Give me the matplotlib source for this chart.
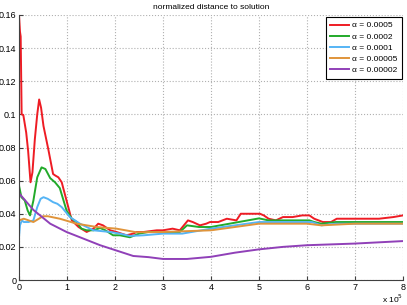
import matplotlib
matplotlib.use('Agg')
import matplotlib.pyplot as plt

# x in units of 1e5 iterations
red_x = [0, 0.02, 0.035, 0.055, 0.09, 0.15, 0.19, 0.24, 0.28, 0.33, 0.38, 0.42, 0.46, 0.51, 0.61,
         0.71, 0.76, 0.82, 0.89, 0.99, 1.1, 1.24, 1.41, 1.55, 1.65, 1.75, 1.9, 2.03, 2.24, 2.38,
         2.45, 2.6, 2.87, 3.0, 3.2, 3.35, 3.52, 3.62, 3.77, 3.9, 3.98, 4.15, 4.33, 4.53, 4.62,
         4.8, 5.02, 5.1, 5.2, 5.35, 5.5, 5.7, 5.9, 6.05, 6.15, 6.33, 6.5, 6.62, 6.9, 7.2, 7.5,
         7.8, 8.0]
red_y = [0.160, 0.150, 0.147, 0.100, 0.0996, 0.089, 0.078, 0.059, 0.065, 0.085, 0.100, 0.109, 0.104, 0.093, 0.079,
         0.064, 0.063, 0.062, 0.059, 0.048, 0.036, 0.032, 0.029, 0.031, 0.034, 0.033, 0.030, 0.029, 0.027, 0.028,
         0.029, 0.029, 0.030, 0.030, 0.031, 0.030, 0.036, 0.035, 0.033, 0.034, 0.035, 0.035, 0.037, 0.036, 0.040,
         0.040, 0.040, 0.039, 0.037, 0.036, 0.038, 0.038, 0.039, 0.039, 0.037, 0.035, 0.035, 0.037, 0.037, 0.037, 0.037,
         0.038, 0.039]

green_x = [0, 0.05, 0.12, 0.18, 0.23, 0.3, 0.38, 0.47, 0.55, 0.65, 0.75, 0.85, 0.99, 1.1, 1.2, 1.3,
           1.41, 1.55, 1.69, 1.8, 1.96, 2.1, 2.31, 2.5, 2.7, 3.0, 3.35, 3.5, 3.75, 4.0, 4.5, 5.0,
           5.2, 5.5, 6.05, 6.15, 6.3, 6.6, 7.0, 8.0]
green_y = [0.057, 0.050, 0.048, 0.042, 0.039, 0.048, 0.062, 0.068, 0.067, 0.0615, 0.059, 0.0555, 0.042, 0.037, 0.035, 0.031,
           0.030, 0.030, 0.0314, 0.030, 0.027, 0.027, 0.0258, 0.028, 0.029, 0.029, 0.029, 0.033, 0.032, 0.032, 0.0346, 0.0372,
           0.036, 0.036, 0.036, 0.035, 0.034, 0.035, 0.035, 0.035]

blue_x = [0, 0.02, 0.06, 0.1, 0.2, 0.3, 0.38, 0.45, 0.51, 0.6, 0.71, 0.8, 0.89, 1.06, 1.27,
          1.55, 1.9, 2.1, 2.31, 2.6, 3.0, 3.4, 4.0, 4.5, 5.0, 5.5, 6.1, 6.3, 6.6, 8.0]
blue_y = [0.026, 0.033, 0.036, 0.035, 0.035, 0.036, 0.044, 0.049, 0.050, 0.049, 0.047, 0.046, 0.044, 0.038, 0.034,
          0.030, 0.029, 0.028, 0.0266, 0.027, 0.028, 0.028, 0.031, 0.033, 0.035, 0.035, 0.035, 0.033, 0.034, 0.034]

orange_x = [0, 0.1, 0.3, 0.5, 0.6, 0.85, 1.2, 1.62, 2.03, 2.45, 3.0, 4.0, 5.0, 6.0, 6.3, 7.0, 8.0]
orange_y = [0.036, 0.037, 0.035, 0.0385, 0.0385, 0.037, 0.034, 0.032, 0.031, 0.0288, 0.029, 0.030, 0.034, 0.034,
            0.033, 0.034, 0.034]

purple_x = [0, 0.3, 0.65, 0.99, 1.69, 2.38, 2.7, 3.0, 3.5, 4.0, 4.5, 5.0, 5.5, 6.0, 7.0, 8.0]
purple_y = [0.0524, 0.0423, 0.034, 0.029, 0.021, 0.0145, 0.0138, 0.0127, 0.0127, 0.014, 0.0165, 0.0185, 0.020,
            0.021, 0.022, 0.0235]

labels = ['α = 0.0005', 'α = 0.0002', 'α = 0.0001', 'α = 0.00005', 'α = 0.00002']
colors = ['#ee1c24', '#22aa2a', '#55b4f5', '#e0943a', '#9040b8']

xticks = [0, 1, 2, 3, 4, 5, 6, 7, 8]
yticks = [0, 0.02, 0.04, 0.06, 0.08, 0.1, 0.12, 0.14, 0.16]
ytick_labels = ['0', '0.02', '0.04', '0.06', '0.08', '0.1', '0.12', '0.14', '0.16']

plt.rcParams['font.family'] = ['Liberation Sans', 'DejaVu Sans']
plt.rcParams['font.size'] = 6

fig = plt.figure(figsize=(4.07, 3.05), dpi=100)
ax = fig.add_axes([19 / 407, 25 / 305, 384 / 407, 265 / 305])

series = [(red_x, red_y), (green_x, green_y), (blue_x, blue_y), (orange_x, orange_y), (purple_x, purple_y)]
for (xs, ys), c, lab in zip(series, colors, labels):
    ax.plot(xs, ys, color=c, lw=1.4, label=lab)

ax.set_xlim(0, 8)
ax.set_ylim(0, 0.16)
ax.set_xticks(xticks)
ax.set_yticks(yticks)
ax.set_yticklabels(ytick_labels)
ax.grid(True, linestyle=':', color='#b0b0b0', lw=0.8)
ax.tick_params(direction='in', length=3, color='#404040', labelsize=6.5, pad=2)
for s in ['top', 'right']:
    ax.spines[s].set_visible(False)
for s in ['left', 'bottom']:
    ax.spines[s].set_color('#404040')
    ax.spines[s].set_linewidth(0.8)

ax.set_title('normalized distance to solution', fontsize=6, pad=4)
ax.text(1.0, -0.087, r'x 10$^5$', transform=ax.transAxes, ha='right', va='baseline', fontsize=6)

leg = ax.legend(loc='upper right', bbox_to_anchor=(402 / 407, 1 - 17 / 305),
                bbox_transform=fig.transFigure, fontsize=6, fancybox=False, framealpha=1,
                edgecolor='black', handlelength=2.25, borderpad=0.55, labelspacing=0.4,
                handletextpad=0.35, borderaxespad=0)
leg.get_frame().set_linewidth(0.8)

fig.savefig('out.png', dpi=100)
